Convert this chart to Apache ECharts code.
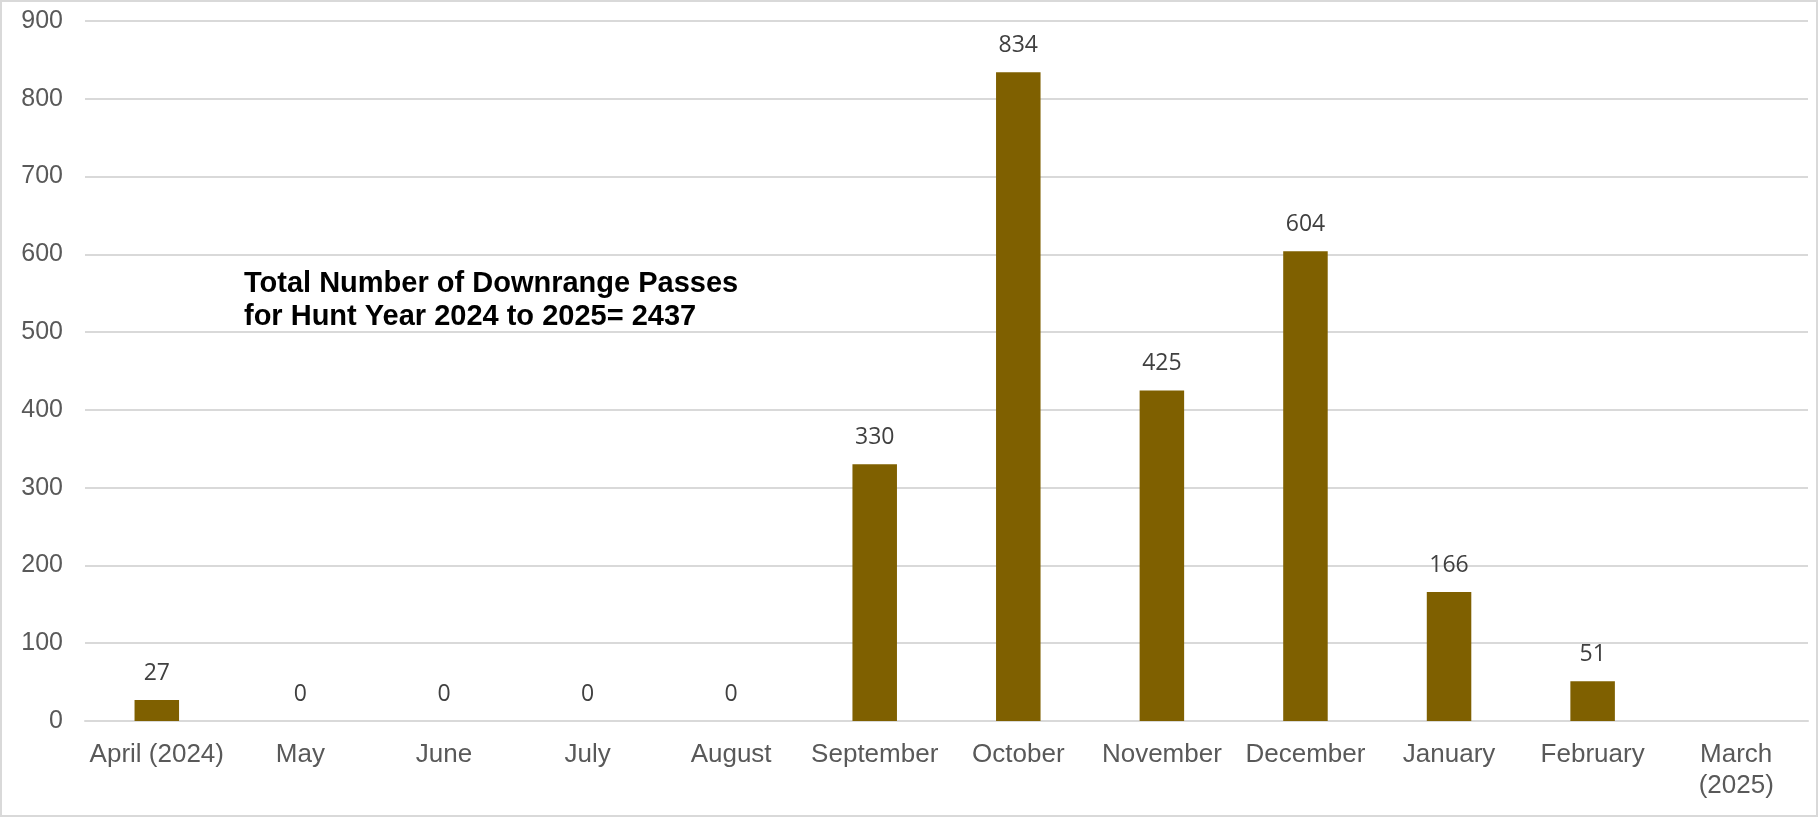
<!DOCTYPE html>
<html>
<head>
<meta charset="utf-8">
<script src="https://cdn.jsdelivr.net/npm/echarts@6/dist/echarts.min.js"></script>
<style>
html,body{margin:0;padding:0;background:#fff;}
#c{width:1818px;height:817px;box-sizing:border-box;border:2px solid #d9d9d9;}
</style>
</head>
<body>
<div id="c"></div>
<script>
const categories = ['April (2024)','May','June','July','August','September','October','November','December','January','February','March\n(2025)'];
const passes = [27, 0, 0, 0, 0, 330, 834, 425, 604, 166, 51, null];
const yTicks = { min: 0, max: 900, interval: 100 };
const annotation = 'Total Number of Downrange Passes\nfor Hunt Year 2024 to 2025= 2437';

const chart = echarts.init(document.getElementById('c'), null, {renderer:'canvas'});
chart.setOption({
  animation: false,
  backgroundColor: '#fff',
  grid: { left: 83, right: 8, top: 19, bottom: 94, containLabel: false },
  xAxis: {
    type: 'category',
    data: categories,
    axisLine: { show: true, lineStyle: { color: '#d9d9d9', width: 2 } },
    axisTick: { show: false },
    axisLabel: { color: '#595959', fontFamily: 'Liberation Sans, Arial', fontSize: 26, margin: 18, lineHeight: 31, interval: 0 }
  },
  yAxis: {
    type: 'value',
    min: yTicks.min, max: yTicks.max, interval: yTicks.interval,
    axisLine: { show: false },
    axisTick: { show: false },
    splitLine: { lineStyle: { color: '#d9d9d9', width: 2 } },
    axisLabel: { color: '#595959', fontFamily: 'Liberation Sans, Arial', fontSize: 25, margin: 22 }
  },
  graphic: [{
    type: 'text',
    left: 242, top: 265,
    style: { text: annotation, fill: '#000', font: 'bold 29px "Liberation Sans", Arial', lineHeight: 33 }
  }],
  series: [{
    type: 'bar',
    data: passes,
    barWidth: '31%',
    itemStyle: { color: '#7f6000' },
    label: {
      show: true, position: 'top', distance: 15,
      color: '#404040', fontFamily: 'Open Sans', fontSize: 23,
      formatter: p => (p.value === null || p.value === undefined) ? '' : String(p.value)
    }
  }]
});
</script>
</body>
</html>
